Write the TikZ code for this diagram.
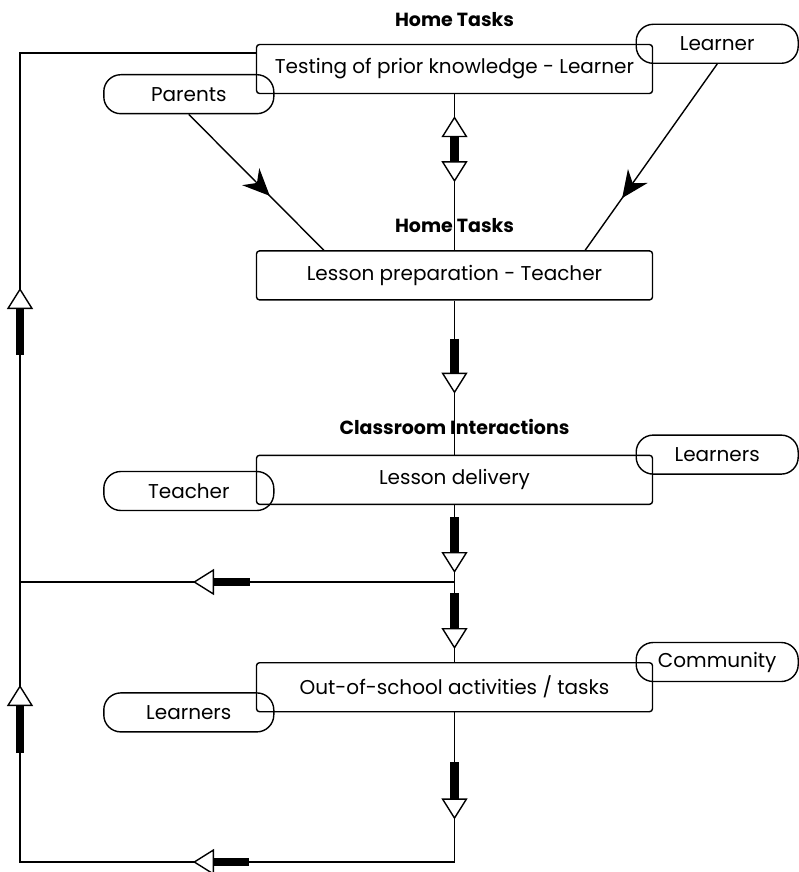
\documentclass[tikz,border=0pt]{standalone}
\usepackage{fontspec}
\setmainfont{Poppins}
\usetikzlibrary{arrows.meta, positioning, decorations.markings}

\begin{document}
\begin{tikzpicture}[
    x=1pt, y=-1pt,
    task/.style={rectangle, rounded corners=3pt, draw, line width=1.4pt,
                 minimum width=396pt, minimum height=49pt,
                 align=center, font=\fontsize{20}{24}\selectfont},
    actor/.style={rectangle, rounded corners=17pt, draw, line width=1.4pt,
                  minimum height=39pt, font=\fontsize{20}{24}\selectfont},
    head/.style={font=\fontsize{19}{22}\selectfont\bfseries},
    link/.style={line width=1.4pt},
    fat/.style={line width=8.5pt,
                -{Triangle[fill=white, length=21pt, width=26pt, line width=1.4pt]}},
    fatboth/.style={line width=8.5pt,
                {Triangle[fill=white, length=21pt, width=26pt, line width=1.4pt]}-{Triangle[fill=white, length=21pt, width=26pt, line width=1.4pt]}},
    feed/.style={link, postaction=decorate,
                 decoration={markings, mark=at position #1 with
                   {\arrow{Stealth[length=27pt, width=24pt]}}}},
    feed/.default=0.6
]
\useasboundingbox (0,0) rectangle (799,872);

% task boxes
\node[task] (test) at (454.5,69) {Testing of prior knowledge - Learner};
\node[task, below=156pt of test] (prep) {Lesson preparation - Teacher};
\node[task, below=154pt of prep] (deliv) {Lesson delivery};
\node[task, below=157pt of deliv] (outs) {Out-of-school activities / tasks};

% headings
\node[head] (hometop) at (test.north |- 0,20) {Home Tasks};
\node[head] (homemid) at (test.north |- 0,226) {Home Tasks};
\node[head] (classlab) at (test.north |- 0,427) {Classroom Interactions};

% who is involved
\node[actor, minimum width=162pt] (plearner) at ([xshift=64pt]test.north east) {Learner};
\node[actor, minimum width=170pt] (parents) at ([xshift=-67pt]test.south west) {Parents};
\node[actor, minimum width=162pt] (learners) at ([xshift=64pt]deliv.north east) {Learners};
\node[actor, minimum width=170pt] (teacher) at ([xshift=-67pt, yshift=14pt]deliv.south west) {Teacher};
\node[actor, minimum width=162pt] (community) at ([xshift=64pt]outs.north east) {Community};
\node[actor, minimum width=170pt] (olearners) at ([xshift=-67pt]outs.south west) {Learners};

% loop points
\coordinate (fork) at (454.5,582);
\coordinate (loopmid) at (20,582);
\coordinate (loopbot) at (20,862);
\coordinate (looptop) at (20,53);

% main flow
\draw[link] (test) -- (prep);
\draw[link] (prep) -- (deliv);
\draw[link] (deliv) -- (fork) -- (outs);
\draw[link] (fork) -- (loopmid);
\draw[link] (outs) |- (loopbot) -- (looptop) -- (looptop -| test.west);

\draw[fatboth] ([yshift=-22pt]test.south) -- ([yshift=68pt]prep.north);
\draw[fat] ([yshift=-38pt]prep.south) -- ([yshift=61pt]deliv.north);
\draw[fat] ([yshift=-12pt]deliv.south) -- ([yshift=9pt]fork);
\draw[fat] ([yshift=-11pt]fork) -- ([yshift=13pt]outs.north);
\draw[fat] ([xshift=-205pt]fork) -- ([xshift=173pt]loopmid);
\draw[fat] ([yshift=-50pt]outs.south) -- ([yshift=-107pt]outs.south);
\draw[fat] ([xshift=229pt]loopbot) -- ([xshift=173pt]loopbot);
\draw[fat] ([yshift=109pt]loopbot) -- ([yshift=177pt]loopbot);
\draw[fat] ([yshift=227pt]loopmid) -- ([yshift=294pt]loopmid);

% inputs to lesson preparation
\draw[feed=0.6] (parents.south) -- ([xshift=68pt]prep.north west);
\draw[feed=0.72] (plearner.south) -- ([xshift=-68pt]prep.north east);

\end{tikzpicture}
\end{document}
